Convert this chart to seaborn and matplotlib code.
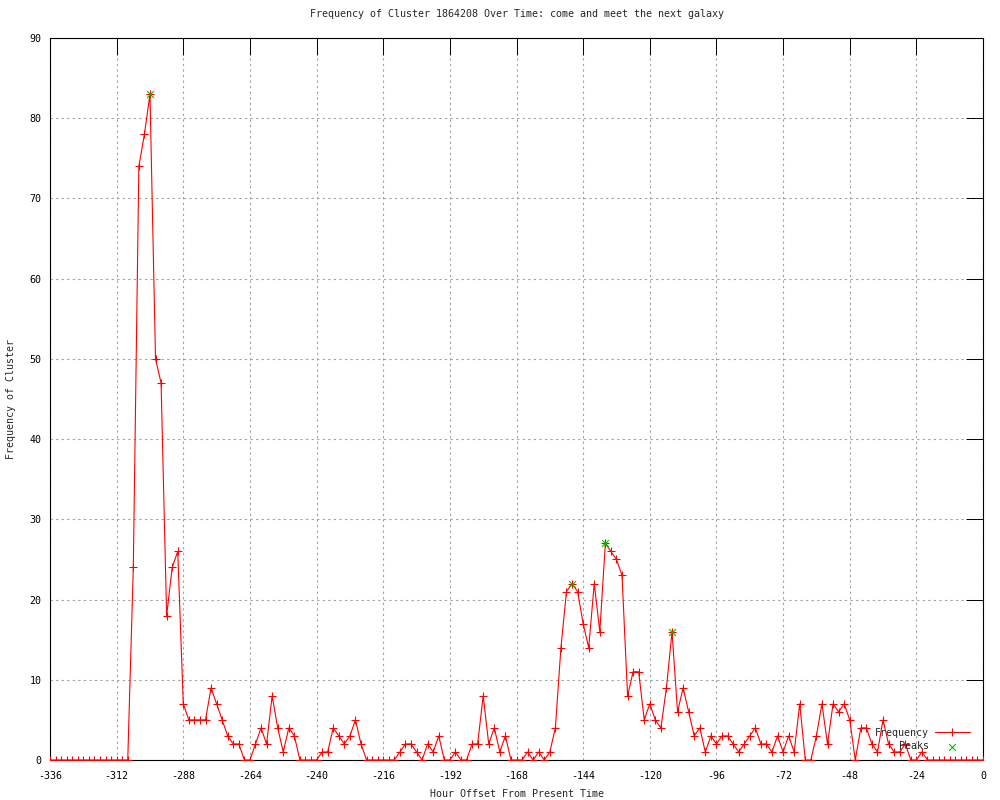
import numpy as np
import pandas as pd
import matplotlib
matplotlib.use('Agg')
import matplotlib.pyplot as plt
import seaborn as sns

# hourly bins, every 2 hours from -336 to 0
hours = np.arange(-336, 1, 2)
counts = [
    0, 0, 0, 0, 0, 0, 0, 0, 0, 0, 0, 0, 0, 0,          # -336 .. -310
    0, 24, 74, 78, 83, 50, 47, 18, 24, 26,               # -308 .. -290
    7, 5, 5, 5, 5, 9, 7, 5, 3, 2, 2, 0,                  # -288 .. -266
    0, 2, 4, 2, 8, 4, 1, 4, 3, 0, 0, 0,                  # -264 .. -242
    0, 1, 1, 4, 3, 2, 3, 5, 2, 0, 0, 0,                  # -240 .. -218
    0, 0, 0, 1, 2, 2, 1, 0, 2, 1, 3, 0,                  # -216 .. -194
    0, 1, 0, 0, 2, 2, 8, 2, 4, 1, 3, 0,                  # -192 .. -170
    0, 0, 1, 0, 1, 0, 1, 4, 14, 21, 22, 21,              # -168 .. -146
    17, 14, 22, 16, 27, 26, 25, 23, 8, 11, 11, 5,        # -144 .. -122
    7, 5, 4, 9, 16, 6, 9, 6, 3, 4, 1, 3,                 # -120 .. -98
    2, 3, 3, 2, 1, 2, 3, 4, 2, 2, 1, 3,                  # -96 .. -74
    1, 3, 1, 7, 0, 0, 3, 7, 2, 7, 6, 7,                  # -72 .. -50
    5, 0, 4, 4, 2, 1, 5, 2, 1, 1, 2, 0,                  # -48 .. -26
    0, 1, 0, 0, 0, 0, 0, 0, 0, 0, 0, 0, 0,               # -24 .. 0
]
peak_hours = [-300, -148, -136, -112]
peak_counts = [83, 22, 27, 16]

x_ticks = np.arange(-336, 1, 24)
y_ticks = np.arange(0, 91, 10)

df = pd.DataFrame({'hour': hours, 'freq': counts})
peaks = pd.DataFrame({'hour': peak_hours, 'freq': peak_counts})

sns.set_style('white')
plt.rcParams['font.family'] = ['DejaVu Sans Mono']
plt.rcParams['axes.unicode_minus'] = False
fs = 7.2

fig = plt.figure(figsize=(10, 8), dpi=100)
ax = fig.add_axes([0.05, 0.05, 0.933, 0.9025])

sns.lineplot(data=df, x='hour', y='freq', ax=ax, color='#ff0000', lw=0.8,
             marker='+', markersize=6, markeredgewidth=0.8, markeredgecolor='#ff0000',
             label='Frequency', zorder=3)
sns.scatterplot(data=peaks, x='hour', y='freq', ax=ax, color='#00c000', marker='x',
                s=24, linewidth=0.8, label='Peaks', zorder=4)

ax.set_xlim(-336, 0)
ax.set_ylim(0, 90)
ax.set_xticks(x_ticks)
ax.set_yticks(y_ticks)
ax.grid(True, color='#a0a0a0', linestyle=(0, (2, 3)), linewidth=0.8)
ax.set_axisbelow(True)
for s in ax.spines.values():
    s.set_color('black')
    s.set_linewidth(0.8)
ax.tick_params(direction='in', length=12, width=0.7, top=True, right=True,
               labelsize=fs, colors='black', pad=6)
ax.tick_params(axis='x', pad=8)

ax.set_title('Frequency of Cluster 1864208 Over Time: come and meet the next galaxy',
             fontsize=fs, pad=15)
ax.set_xlabel('Hour Offset From Present Time', fontsize=fs, labelpad=6)
ax.set_ylabel('Frequency of Cluster', fontsize=fs, labelpad=10)

ax.legend(loc='lower right', bbox_to_anchor=(0.991, 0.005), frameon=False,
          markerfirst=False, fontsize=fs, handlelength=3.5, handletextpad=0.6,
          labelspacing=0.35, borderpad=0)

fig.savefig('out.png', dpi=100)
